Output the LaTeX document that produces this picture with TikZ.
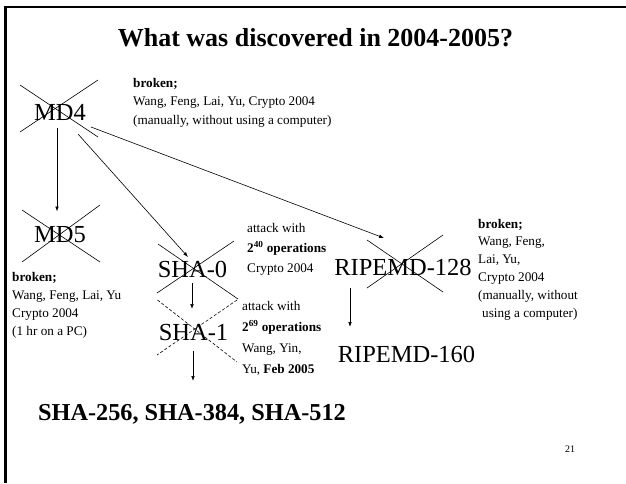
\documentclass[tikz,border=0pt]{standalone}
\usepackage{fontspec}
\setmainfont{Liberation Serif}
\usetikzlibrary{arrows.meta,calc}

% left-aligned block of lines whose baseline is that of its first line
\newcommand\txtlines[1]{\vtop{\halign{##\hfil\cr#1\crcr}}}

\begin{document}
\begin{tikzpicture}[x=1pt,y=-1pt,
  lbl/.style={inner sep=0pt, anchor=base, font=\fontsize{24.5}{24.5}\selectfont},
  note/.style={inner sep=0pt, anchor=base west},
  strike/.style={line width=0.6pt},
  link/.style={line width=0.6pt, -{Latex[length=5pt,width=3.6pt]}},
]
\useasboundingbox (0,0) rectangle (626,483);

% slide frame
\draw[line width=2.2pt] (5.5,483) -- (5.5,7) -- (626,7);

\node[inner sep=0pt, anchor=base, font=\bfseries\fontsize{26}{26}\selectfont]
  (title) at (315.5,46) {What was discovered in 2004-2005?};

% hash functions
\node[lbl] (md4)  at (60,120)    {MD4};
\node[lbl] (md5)  at (60,242)    {MD5};
\node[lbl] (sha0) at (192.5,277) {SHA-0};
\node[lbl] (sha1) at (193.5,340) {SHA-1};
\node[lbl] (r128) at (403,275)   {RIPEMD-128};
\node[lbl] (r160) at (406.5,362) {RIPEMD-160};
\node[inner sep=0pt, anchor=base, font=\bfseries\fontsize{24.3}{24.3}\selectfont]
  (sha2) at (192,420) {SHA-256, SHA-384, SHA-512};

% crossed out (broken)
\draw[strike] ([shift={(-40,-35)}]md4.base) -- ([shift={(38,17)}]md4.base);
\draw[strike] ([shift={(38,-40)}]md4.base) -- ([shift={(-40,12)}]md4.base);
\draw[strike] ([shift={(-38,-32)}]md5.base) -- ([shift={(40,20)}]md5.base);
\draw[strike] ([shift={(40,-37)}]md5.base) -- ([shift={(-38,20)}]md5.base);
\draw[strike] ([shift={(-34.5,-33)}]sha0.base) -- ([shift={(45.5,22)}]sha0.base);
\draw[strike] ([shift={(41.5,-36)}]sha0.base) -- ([shift={(-35.5,16)}]sha0.base);
\draw[strike] ([shift={(-36,-35)}]r128.base) -- ([shift={(40,17)}]r128.base);
\draw[strike] ([shift={(40,-40)}]r128.base) -- ([shift={(-36,13)}]r128.base);
\draw[strike, dashed, dash pattern=on 3pt off 2pt]
  ([shift={(-36,-40)}]sha1.base) -- ([shift={(43.5,22)}]sha1.base);
\draw[strike, dashed, dash pattern=on 3pt off 2pt]
  ([shift={(43.5,-40)}]sha1.base) -- ([shift={(-36.5,15)}]sha1.base);

% derivations
\draw[link] ([shift={(-3,8)}]md4.base)    -- ([shift={(-3,-30.5)}]md5.base);
\draw[link] ([shift={(18,14)}]md4.base)   -- ([shift={(-4.5,-20)}]sha0.base);
\draw[link] ([shift={(31,7)}]md4.base)    -- ([shift={(-19,-37)}]r128.base);
\draw[link] ([shift={(-0.5,6)}]sha0.base) -- ([shift={(-1.5,-31)}]sha1.base);
\draw[link] ([shift={(-0.5,11)}]sha1.base) -- ([shift={(1,-39)}]sha2.base);
\draw[link] ([shift={(-53,13)}]r128.base) -- ([shift={(-56.5,-35)}]r160.base);

% annotations
\node[note, font=\fontsize{13.2}{18.5}\selectfont] (md4note) at (133,87)
  {\txtlines{\textbf{broken;}\cr Wang, Feng, Lai, Yu, Crypto 2004\cr (manually, without using a computer)}};
\node[note, font=\fontsize{13.2}{18}\selectfont] (md5note) at (12,281)
  {\txtlines{\textbf{broken;}\cr Wang, Feng, Lai, Yu\cr Crypto 2004\cr (1 hr on a PC)}};
\node[note, font=\fontsize{13.2}{20}\selectfont] (sha0note) at (247,232)
  {\txtlines{attack with\cr \textbf{2\textsuperscript{40} operations}\cr Crypto 2004}};
\node[note, font=\fontsize{13.2}{21}\selectfont] (sha1note) at (242,310)
  {\txtlines{attack with\cr \textbf{2\textsuperscript{69} operations}\cr Wang, Yin,\cr Yu, \textbf{Feb 2005}}};
\node[note, font=\fontsize{13.2}{17.8}\selectfont] (r128note) at (478,228)
  {\txtlines{\textbf{broken;}\cr Wang, Feng,\cr Lai, Yu,\cr Crypto 2004\cr (manually, without\cr \hskip4pt using a computer)}};

\node[inner sep=0pt, font=\fontsize{10}{10}\selectfont] (page) at (570,449) {21};
\end{tikzpicture}
\end{document}
